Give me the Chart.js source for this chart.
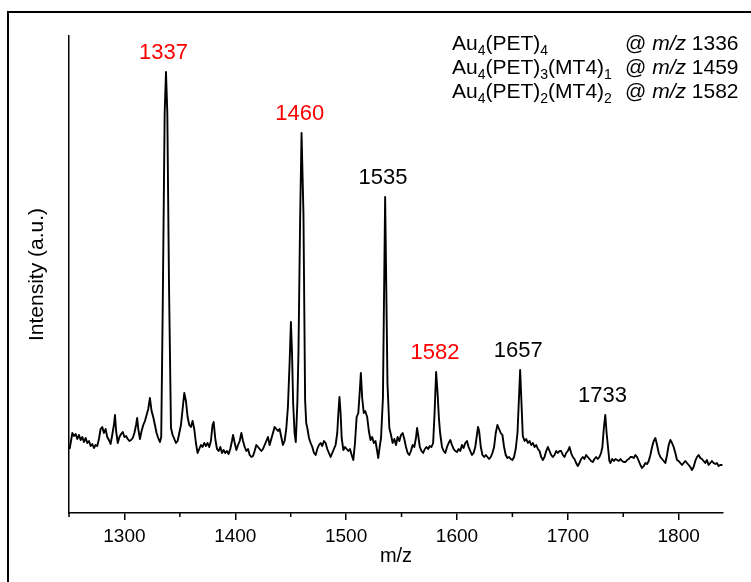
<!DOCTYPE html>
<html>
<head>
<meta charset="utf-8">
<title>MALDI spectrum</title>
<script src="https://cdn.jsdelivr.net/npm/chart.js@4.4.0/dist/chart.umd.min.js"></script>
<style>
  html, body { margin: 0; padding: 0; background: #fff; overflow: hidden; }
  #wrap { position: relative; width: 751px; height: 582px; }
</style>
</head>
<body>
<div id="wrap"><canvas id="ms" width="751" height="582"></canvas></div>
<script>
// spectrum (m/z, intensity in arbitrary units)
const mz = [
  1250.5, 1251.5, 1253, 1254.5, 1256, 1257.5, 1259, 1260.5, 1262, 1263.5,
  1265, 1266.5, 1268, 1269.5, 1271, 1272.5, 1274, 1275.5, 1277, 1278.5,
  1280, 1281.5, 1283, 1284.5, 1286, 1287.5, 1289, 1290.5, 1291.5, 1292.5,
  1294, 1295.5, 1297, 1298.5, 1300, 1301.5, 1303, 1304.5, 1306, 1307.5,
  1309, 1310.5, 1311.5, 1312.5, 1314, 1315.5, 1317, 1318.5, 1320, 1321.5,
  1323, 1324.5, 1326, 1327.5, 1329, 1330.5, 1332, 1333.2, 1334.5, 1336.3,
  1337.5, 1338.7, 1340.2, 1342, 1343.5, 1345, 1346.5, 1348, 1349.5, 1351,
  1352.5, 1354, 1355.5, 1357, 1358.5, 1360, 1361.5, 1363, 1364.5, 1366,
  1367.5, 1369, 1370.5, 1372, 1373.5, 1375, 1376.5, 1378, 1379.5, 1380.5,
  1382, 1383.5, 1385, 1386.5, 1388, 1389.5, 1391, 1392.5, 1394, 1395.5,
  1397, 1398, 1399.5, 1401, 1402.5, 1404, 1405.5, 1407, 1408.5, 1410,
  1411.5, 1413, 1414.5, 1416, 1417.5, 1419, 1420.5, 1422, 1423.5, 1425,
  1426.5, 1428, 1429.5, 1431, 1432.5, 1434, 1435.5, 1437, 1438.5, 1440,
  1441.5, 1443, 1444.5, 1446, 1447.5, 1449, 1450.2, 1451.2, 1452.2, 1453.5,
  1454.6, 1456, 1457, 1458.5, 1459.8, 1461.5, 1463, 1464, 1465, 1466.5,
  1468, 1469.5, 1471, 1472.5, 1474, 1475.5, 1477, 1478.5, 1480, 1481.5,
  1483, 1484.5, 1486, 1487.5, 1489, 1490.5, 1492, 1493, 1494, 1495,
  1496, 1497.5, 1499, 1500.5, 1502, 1503.5, 1505, 1506.5, 1508, 1509.5,
  1511, 1512.2, 1513.3, 1514.5, 1515.9, 1517.2, 1519, 1520.5, 1522, 1523.5,
  1525, 1526.5, 1528, 1529, 1530.5, 1531.5, 1533.2, 1535.2, 1537.3, 1539,
  1540.5, 1542, 1543.5, 1545, 1546.5, 1548, 1549.5, 1551, 1552.5, 1554,
  1555.5, 1557, 1558.5, 1560, 1561.5, 1563, 1564, 1565, 1566.5, 1568,
  1569.5, 1571, 1572.5, 1574, 1575.5, 1577, 1578.5, 1579.8, 1581.2, 1582.5,
  1583.7, 1584.8, 1586.5, 1588, 1589.5, 1591, 1592.5, 1594, 1595.5, 1597,
  1598.5, 1600, 1601.5, 1603, 1604.5, 1606, 1607.5, 1609, 1610.5, 1612,
  1613.5, 1615, 1616.5, 1618, 1619, 1620, 1621.5, 1623, 1624.5, 1626,
  1627.5, 1629, 1630.5, 1632, 1633.5, 1635, 1636.5, 1638, 1639.5, 1641,
  1642.5, 1644, 1645.5, 1647, 1648.5, 1650, 1651.5, 1653, 1654.6, 1657,
  1659.4, 1661, 1662.5, 1664, 1665.5, 1667, 1668.5, 1670, 1671.5, 1673,
  1674.5, 1676, 1677.5, 1679, 1680.5, 1682, 1683.5, 1685, 1686.5, 1688,
  1689.5, 1691, 1692.5, 1694, 1695.5, 1697, 1698.5, 1700, 1701.5, 1703,
  1704.5, 1706, 1707.5, 1709, 1710.5, 1712, 1713.5, 1715, 1716.5, 1718,
  1719.5, 1721, 1722.5, 1724, 1725.5, 1727, 1728.5, 1730, 1731.2, 1732.5,
  1733.8, 1735, 1736.5, 1737.5, 1738.5, 1740, 1741.5, 1743, 1744.5, 1746,
  1747.5, 1749, 1750.5, 1752, 1753.5, 1755, 1756.5, 1758, 1759.5, 1761,
  1762.5, 1764, 1765.5, 1767, 1768.5, 1770, 1771.5, 1773, 1774.5, 1776,
  1777.5, 1779, 1780.5, 1782, 1783.5, 1785, 1786.5, 1788, 1789.5, 1791,
  1792.5, 1794, 1795.5, 1797, 1798.5, 1800, 1801.5, 1803, 1804.5, 1806,
  1807.5, 1809, 1810.5, 1812, 1813.5, 1815, 1816.5, 1818, 1819.5, 1821,
  1822.5, 1824, 1825.5, 1827, 1828.5, 1830, 1831.5, 1833, 1834.5, 1836,
  1837.5, 1839.5
];
const intensity = [
  64, 70, 80, 77, 79, 74, 78, 73, 76, 71,
  75, 70, 72, 67, 69, 65, 68, 67, 74, 84,
  86, 80, 84, 76, 73, 69, 78, 88, 98, 82,
  70, 76, 79, 81, 76, 77, 74, 72, 73, 75,
  80, 88, 95, 84, 74, 82, 88, 92, 98, 104,
  115, 102, 96, 88, 80, 75, 71, 76, 200, 400,
  441, 400, 230, 85, 78, 74, 70, 72, 80, 88,
  104, 120, 112, 96, 88, 86, 92, 84, 70, 60,
  64, 68, 66, 70, 67, 70, 66, 72, 88, 91,
  74, 64, 62, 66, 60, 63, 60, 62, 59, 64,
  72, 78, 70, 63, 68, 72, 80, 72, 66, 62,
  64, 58, 56, 57, 62, 68, 66, 64, 62, 64,
  68, 72, 76, 68, 74, 80, 86, 84, 82, 84,
  76, 68, 72, 84, 106, 150, 191, 160, 110, 80,
  71, 110, 160, 293, 380, 300, 113, 90, 85, 75,
  70, 66, 60, 58, 64, 68, 70, 67, 72, 70,
  64, 60, 56, 60, 64, 68, 80, 100, 116, 100,
  75, 63, 66, 64, 62, 64, 58, 53, 70, 96,
  100, 120, 140, 115, 100, 102, 96, 82, 73, 76,
  70, 72, 62, 55, 68, 75, 115, 316, 130, 85,
  78, 70, 74, 68, 76, 72, 78, 80, 74, 66,
  60, 58, 62, 68, 66, 75, 85, 78, 66, 62,
  60, 64, 66, 64, 67, 66, 70, 100, 141, 120,
  95, 80, 66, 62, 60, 66, 70, 73, 68, 64,
  62, 61, 64, 62, 68, 65, 70, 72, 66, 62,
  58, 60, 66, 78, 86, 82, 66, 58, 56, 58,
  56, 54, 56, 60, 66, 80, 88, 84, 80, 78,
  66, 58, 55, 56, 54, 53, 56, 64, 80, 143,
  77, 72, 74, 70, 72, 68, 70, 66, 68, 64,
  62, 56, 53, 56, 62, 66, 62, 58, 56, 58,
  62, 60, 62, 62, 58, 56, 60, 62, 66, 60,
  56, 54, 50, 47, 50, 54, 56, 54, 58, 56,
  54, 52, 51, 54, 56, 54, 56, 60, 66, 85,
  98, 80, 63, 52, 50, 54, 52, 54, 53, 52,
  54, 52, 51, 51, 53, 54, 56, 56, 55, 58,
  56, 52, 48, 45, 47, 50, 49, 52, 58, 66,
  72, 75, 68, 60, 56, 54, 52, 50, 58, 68,
  73, 70, 66, 60, 53, 52, 50, 48, 50, 52,
  50, 48, 46, 43, 46, 52, 56, 58, 55, 54,
  52, 50, 53, 48, 50, 52, 50, 49, 50, 47,
  48, 48
];

const xTicks = [1300, 1400, 1500, 1600, 1700, 1800];
const xMinorTicks = [1250, 1350, 1450, 1550, 1650, 1750];

const peakMz = [1337, 1460, 1535, 1582, 1657, 1733];
const peakText = ['1337', '1460', '1535', '1582', '1657', '1733'];
const peakColor = ['#ff0000', '#ff0000', '#000000', '#ff0000', '#000000', '#000000'];

// "_n" marks a subscript digit
const legendFormula = ['Au_4(PET)_4', 'Au_4(PET)_3(MT4)_1', 'Au_4(PET)_2(MT4)_2'];
const legendMz = ['1336', '1459', '1582'];

const FONT = '"Liberation Sans", Arial, sans-serif';

function drawFormula(ctx, str, x, y) {
  str.split(/(_\d)/).forEach(part => {
    if (!part) return;
    if (part[0] === '_') {
      ctx.font = '14px ' + FONT;
      ctx.fillText(part.slice(1), x, y + 5);
      x += ctx.measureText(part.slice(1)).width;
    } else {
      ctx.font = '21px ' + FONT;
      ctx.fillText(part, x, y);
      x += ctx.measureText(part).width;
    }
  });
}

const decorations = {
  id: 'decorations',
  afterDraw(chart) {
    const ctx = chart.ctx;
    const xs = chart.scales.x;
    const ys = chart.scales.y;
    ctx.save();

    // outer frame of the figure
    ctx.strokeStyle = '#000';
    ctx.lineWidth = 2;
    ctx.beginPath();
    ctx.moveTo(8, 582);
    ctx.lineTo(8, 12);
    ctx.lineTo(751, 12);
    ctx.stroke();

    // minor ticks
    ctx.lineWidth = 1.5;
    xMinorTicks.forEach(v => {
      const px = xs.getPixelForValue(v);
      ctx.beginPath();
      ctx.moveTo(px, xs.top);
      ctx.lineTo(px, xs.top + 4);
      ctx.stroke();
    });

    // peak labels above the peaks
    ctx.font = '22px ' + FONT;
    ctx.textAlign = 'center';
    ctx.textBaseline = 'alphabetic';
    peakMz.forEach((m, i) => {
      let top = 0;
      mz.forEach((v, j) => {
        if (Math.abs(v - m) <= 3) top = Math.max(top, intensity[j]);
      });
      ctx.fillStyle = peakColor[i];
      ctx.fillText(peakText[i], xs.getPixelForValue(m) - 2, ys.getPixelForValue(top) - 13);
    });

    // assignment list, top right
    ctx.textAlign = 'left';
    ctx.fillStyle = '#000';
    legendFormula.forEach((f, i) => {
      const by = 50 + i * 24;
      drawFormula(ctx, f, 452, by);
      let x = 625;
      ctx.font = '21px ' + FONT;
      ctx.fillText('@ ', x, by);
      x += ctx.measureText('@ ').width;
      ctx.font = 'italic 21px ' + FONT;
      ctx.fillText('m/z', x, by);
      x += ctx.measureText('m/z').width;
      ctx.font = '21px ' + FONT;
      ctx.fillText(' ' + legendMz[i], x, by);
    });

    ctx.restore();
  }
};

const points = mz.map((v, i) => ({ x: v, y: intensity[i] }));

new Chart(document.getElementById('ms'), {
  type: 'line',
  data: {
    datasets: [{
      data: points,
      borderColor: '#000',
      borderWidth: 1.9,
      borderJoinStyle: 'round',
      pointRadius: 0,
      tension: 0,
      fill: false
    }]
  },
  options: {
    responsive: false,
    animation: false,
    layout: { padding: { left: 0, top: 36, right: 28, bottom: 0 } },
    plugins: {
      legend: { display: false },
      tooltip: { enabled: false }
    },
    scales: {
      x: {
        type: 'linear',
        min: 1250,
        max: 1840,
        afterBuildTicks: scale => { scale.ticks = xTicks.map(v => ({ value: v })); },
        afterFit: scale => { scale.height = 69; },
        grid: {
          display: true,
          drawOnChartArea: false,
          drawTicks: true,
          tickLength: 7,
          color: '#000',
          lineWidth: 1.5
        },
        border: { display: true, color: '#000', width: 1.5 },
        ticks: {
          color: '#000',
          padding: 5,
          maxRotation: 0,
          font: { family: FONT, size: 19 },
          callback: v => String(v)
        },
        title: {
          display: true,
          text: 'm/z',
          color: '#000',
          padding: { top: 0, bottom: 14 },
          font: { family: FONT, size: 20 }
        }
      },
      y: {
        min: 0,
        max: 477,
        afterFit: scale => { scale.width = 69; },
        grid: { display: false },
        border: { display: true, color: '#000', width: 1.5 },
        ticks: { display: false },
        title: {
          display: true,
          text: 'Intensity (a.u.)',
          color: '#000',
          padding: { top: 25, bottom: 0 },
          font: { family: FONT, size: 21 }
        }
      }
    }
  },
  plugins: [decorations]
});
</script>
</body>
</html>
